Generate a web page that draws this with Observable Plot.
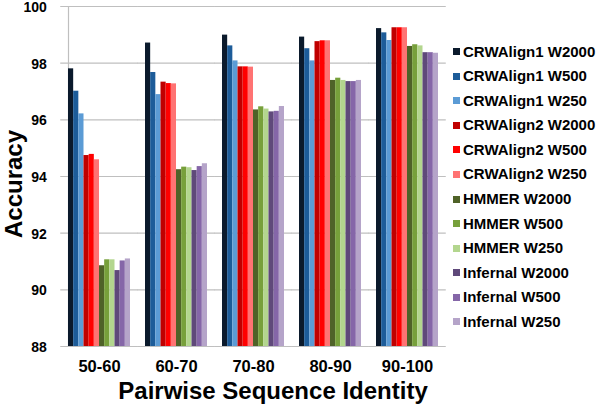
<!DOCTYPE html>
<html>
<head>
<meta charset="utf-8">
<script src="https://cdn.jsdelivr.net/npm/d3@7"></script>
<script src="https://cdn.jsdelivr.net/npm/@observablehq/plot@0.6"></script>
<style>
  html, body { margin: 0; padding: 0; background: #fff; }
  #wrap { position: relative; width: 600px; height: 405px; overflow: hidden; font-family: "Liberation Sans", Arial, sans-serif; font-weight: bold; }
  #wrap svg { display: block; }
  #legend { position: absolute; left: 453px; top: 0; }
  .item { position: absolute; left: 0; white-space: nowrap; font-size: 15px; line-height: 16px; height: 16px; display: flex; align-items: center; color: #000; }
  .sw { width: 7px; height: 7px; margin-right: 3px; flex: none; }
</style>
</head>
<body>
<div id="wrap"></div>
<script>
const groups = ["50-60", "60-70", "70-80", "80-90", "90-100"];
const seriesNames = [
  "CRWAlign1 W2000", "CRWAlign1 W500", "CRWAlign1 W250",
  "CRWAlign2 W2000", "CRWAlign2 W500", "CRWAlign2 W250",
  "HMMER W2000", "HMMER W500", "HMMER W250",
  "Infernal W2000", "Infernal W500", "Infernal W250"
];
const seriesColors = [
  "#0b1a2c", "#1d5c99", "#5b9bd5",
  "#c00000", "#ff0000", "#ff7373",
  "#4f6228", "#77a03b", "#b3d68e",
  "#5f497a", "#8566a8", "#b5a4c9"
];
const crw1_w2000  = [97.80, 98.71, 98.99, 98.92, 99.22];
const crw1_w500   = [97.01, 97.67, 98.61, 98.51, 99.07];
const crw1_w250   = [96.21, 96.89, 98.08, 98.08, 98.80];
const crw2_w2000  = [94.74, 97.33, 97.87, 98.76, 99.25];
const crw2_w500   = [94.78, 97.28, 97.87, 98.79, 99.25];
const crw2_w250   = [94.59, 97.27, 97.86, 98.79, 99.25];
const hmmer_w2000 = [90.85, 94.24, 96.35, 97.39, 98.59];
const hmmer_w500  = [91.06, 94.33, 96.46, 97.47, 98.65];
const hmmer_w250  = [91.06, 94.31, 96.38, 97.39, 98.61];
const inf_w2000   = [90.68, 94.21, 96.28, 97.35, 98.37];
const inf_w500    = [91.02, 94.35, 96.30, 97.35, 98.37];
const inf_w250    = [91.09, 94.45, 96.47, 97.39, 98.35];
const yTicks = [88, 90, 92, 94, 96, 98, 100];
const yMin = 88, yMax = 100;

const seriesValues = [
  crw1_w2000, crw1_w500, crw1_w250,
  crw2_w2000, crw2_w500, crw2_w250,
  hmmer_w2000, hmmer_w500, hmmer_w250,
  inf_w2000, inf_w500, inf_w250
];
const data = [];
groups.forEach((g, gi) => {
  seriesNames.forEach((s, si) => {
    data.push({group: g, series: s, value: seriesValues[si][gi]});
  });
});

const W = 600, H = 405, mL = 59, mR = 153, mT = 6, mB = 59;
const padIn = 0.2, padOut = 0.1;
const step = (W - mL - mR) / (groups.length - padIn + 2 * padOut);
const halfGap = padOut * step;
const gridColor = "#bfbfbf";

const chart = Plot.plot({
  width: W,
  height: H,
  marginLeft: mL,
  marginRight: mR,
  marginTop: mT,
  marginBottom: mB,
  style: {fontFamily: "'Liberation Sans', Arial, sans-serif", fontWeight: "bold", background: "transparent", color: "#000"},
  fx: {domain: groups, paddingInner: padIn, paddingOuter: padOut, label: null},
  x: {domain: seriesNames, padding: 0, round: false, axis: null},
  y: {domain: [yMin, yMax], axis: null},
  color: {domain: seriesNames, range: seriesColors},
  marks: [
    Plot.ruleY(yTicks, {stroke: gridColor, strokeWidth: 1.2, insetLeft: -halfGap, insetRight: -halfGap}),
    Plot.frame({anchor: "left", stroke: gridColor, strokeWidth: 1.2, facet: "super"}),
    Plot.barY(data, {fx: "group", x: "series", y1: yMin, y2: "value", fill: "series"}),
    Plot.axisY({ticks: yTicks, tickSize: 0, tickPadding: 14, fontSize: 14, fontWeight: "bold", label: null, tickFormat: d => String(d), dx: -halfGap, dy: 1}),
    Plot.axisFx({anchor: "bottom", tickSize: 0, tickPadding: 14, fontSize: 16.5, fontWeight: "bold", label: null}),
    Plot.text(["Accuracy"], {frameAnchor: "left", textAnchor: "middle", lineAnchor: "middle", rotate: -90, dx: -54, dy: 7.5, fontSize: 24, fontWeight: "bold", fill: "#000", facet: "super"}),
    Plot.text(["Pairwise Sequence Identity"], {frameAnchor: "bottom", textAnchor: "middle", lineAnchor: "bottom", dx: 19.5, dy: 52, fontSize: 24, fontWeight: "bold", fill: "#000", facet: "super"})
  ]
});
const wrap = document.getElementById("wrap");
wrap.appendChild(chart);

const legend = document.createElement("div");
legend.id = "legend";
seriesNames.forEach((s, i) => {
  const item = document.createElement("div");
  item.className = "item";
  item.style.top = (51.7 + 24.55 * i - 8) + "px";
  const sw = document.createElement("span");
  sw.className = "sw";
  sw.style.background = seriesColors[i];
  const t = document.createElement("span");
  t.textContent = s;
  item.appendChild(sw);
  item.appendChild(t);
  legend.appendChild(item);
});
wrap.appendChild(legend);
</script>
</body>
</html>
